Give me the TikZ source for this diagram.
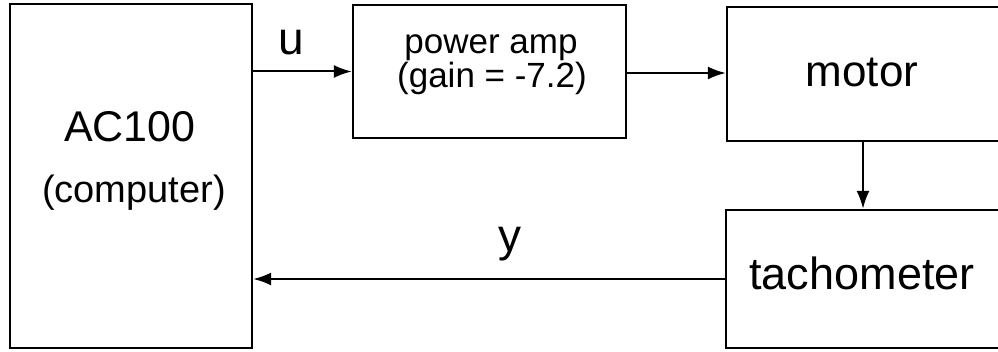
\documentclass[tikz,border=0pt]{standalone}
\usepackage{fontspec}
\setmainfont{Liberation Sans}
\usetikzlibrary{arrows.meta}
\begin{document}
\begin{tikzpicture}[x=1pt,y=1pt,
  blk/.style={draw,line width=2.4pt,inner sep=0pt,minimum width=#1},
  conn/.style={line width=2pt,-{Latex[length=18pt,width=13pt]}},
  txt/.style={inner sep=0pt,anchor=base}]
\useasboundingbox (0,0) rectangle (998,352);
\node[blk=242pt,minimum height=344pt] (ac) at (131,176) {};
\node[blk=273pt,minimum height=133pt] (amp) at (489.5,280.5) {};
\node[blk=273pt,minimum height=134pt] (motor) at (863.5,278) {};
\node[blk=274pt,minimum height=138pt] (tach) at (863,73) {};
\node[txt,font=\fontsize{43}{43}\selectfont] (t1) at (130,210) {AC100};
\node[txt,font=\fontsize{38}{38}\selectfont] (t2) at (134,149) {(computer)};
\node[txt,font=\fontsize{35}{35}\selectfont] (t3) at (491,298) {power amp};
\node[txt,font=\fontsize{35}{35}\selectfont] (t4) at (492,264) {(gain = -7.2)};
\node[txt,font=\fontsize{44}{44}\selectfont] (t5) at (862,265) {motor};
\node[txt,font=\fontsize{45}{45}\selectfont] (t6) at (862,62) {tachometer};
\node[txt,font=\fontsize{46}{46}\selectfont] (lu) at (291,297) {u};
\node[txt,font=\fontsize{46}{46}\selectfont] (ly) at (510,100) {y};
\coordinate (ms) at (863,0);
\draw[conn] (amp.west -| ac.east) -- (amp.west);
\draw[conn] (amp.east |- 0,279) -- (motor.west |- 0,279);
\draw[conn] (ms |- motor.south) -- (ms |- tach.north);
\draw[conn] (tach.west) -- (tach.west -| ac.east);
\end{tikzpicture}
\end{document}
